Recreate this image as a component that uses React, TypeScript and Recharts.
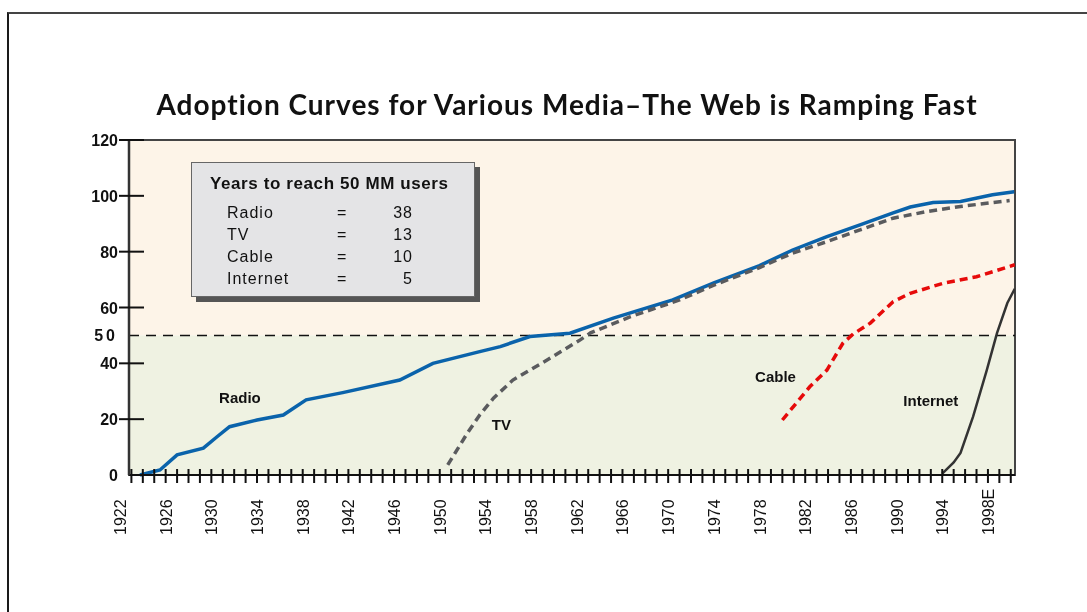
import { LineChart, Line, XAxis, YAxis, ReferenceArea, ReferenceLine, ReferenceDot } from "recharts";

// years (x) and users in millions (y)
const radioYears = [1923.75, 1925.5, 1927, 1929.3, 1930.5, 1931.6, 1934, 1936.3, 1938.3, 1941.5, 1946.5, 1949.4, 1953.5, 1955.3, 1957.9, 1961.4, 1965.2, 1970.4, 1974, 1978, 1980.9, 1983.9, 1986.8, 1989.7, 1991.2, 1993.2, 1995.6, 1998.4, 2000.3];
const radioUsers = [0, 1.8, 7.2, 9.6, 13.7, 17.3, 19.7, 21.5, 26.9, 29.5, 34, 40, 44.2, 46, 49.6, 50.8, 56.2, 62.7, 68.8, 75, 80.6, 85.4, 89.6, 93.9, 96, 97.6, 98, 100.4, 101.5];

const tvYears = [1950.7, 1952.4, 1953.5, 1954.7, 1956.4, 1959.4, 1962.3, 1963.2, 1966.7, 1971, 1974, 1978, 1980.9, 1983.9, 1986.8, 1989.7, 1992.7, 1995.6, 1999.9];
const tvUsers = [3.6, 14.9, 21.5, 27.5, 34, 41.2, 48.4, 50.9, 56.7, 62.7, 68, 74.3, 79.5, 83.6, 87.8, 92, 94.4, 96.2, 98.3];

const cableYears = [1980, 1982.4, 1983.9, 1985.3, 1986.2, 1987.7, 1989.7, 1991.2, 1994.1, 1997, 2000.35];
const cableUsers = [19.7, 31.6, 37.6, 47.2, 50.5, 54.4, 62.1, 65.1, 68.7, 71, 75.3];

const internetYears = [1994, 1995, 1995.6, 1996.7, 1997.9, 1998.8, 1999.7, 2000.35];
const internetUsers = [0.5, 4.5, 7.9, 20.9, 37.6, 50.9, 61.6, 66.7];

const yTicks = [0, 20, 40, 50, 60, 80, 100, 120];
const labelYears = [1922, 1926, 1930, 1934, 1938, 1942, 1946, 1950, 1954, 1958, 1962, 1966, 1970, 1974, 1978, 1982, 1986, 1990, 1994, 1998];
const labelText: Record<number, string> = { 1998: "1998E" };
const markYears = Array.from({ length: 79 }, (_, i) => 1922 + i);

const legendRows = [
  { name: "Radio", years: "38" },
  { name: "TV", years: "13" },
  { name: "Cable", years: "10" },
  { name: "Internet", years: "5" },
];

const toRows = (xs: number[], ys: number[]) => xs.map((year, i) => ({ year, users: ys[i] }));

const FONT = "'Liberation Sans', Arial, sans-serif";

function XTick(props: any) {
  const { x, y, payload } = props;
  const v = payload.value as number;
  const isLabel = labelYears.includes(v);
  return (
    <g>
      {v >= 1923 && <line x1={x} x2={x} y1={y - 14} y2={y} stroke="#111" strokeWidth={2} />}
      {isLabel && (
        <text
          x={0}
          y={0}
          transform={`translate(${x + 6},${y + 52}) rotate(-90)`}
          textAnchor="start"
          fontFamily={FONT}
          fontSize={16}
          fill="#111"
        >
          {labelText[v] ?? String(v)}
        </text>
      )}
    </g>
  );
}

function YTick(props: any) {
  const { x, y, payload } = props;
  const v = payload.value as number;
  return (
    <g>
      {v !== 0 && v !== 50 && <line x1={x - 2} x2={x + 23} y1={y} y2={y} stroke="#111" strokeWidth={2} />}
      <text x={x - 3} y={y + 6} textAnchor="end" fontFamily={FONT} fontWeight="bold" fontSize={16} fill="#111" letterSpacing={v === 50 ? 3 : 0}>
        {v}
      </text>
    </g>
  );
}

const lineLabel = (text: string) => ({
  value: text,
  position: "center" as const,
  fontFamily: FONT,
  fontWeight: "bold",
  fontSize: 15,
  fill: "#111",
});

export default function App() {
  return (
    <div style={{ fontFamily: FONT }}>
      <div
        style={{
          position: "fixed",
          left: 7,
          top: 12,
          width: 2000,
          height: 2000,
          borderTop: "2px solid #444",
          borderLeft: "2px solid #1a1a1a",
        }}
      />
      <div style={{ position: "fixed", left: 0, top: 0 }}>
        <LineChart width={1087} height={612} margin={{ top: 140, right: 72, bottom: 67, left: 0 }}>
          <XAxis
            dataKey="year"
            type="number"
            domain={[1922.79, 2000.37]}
            allowDataOverflow
            ticks={markYears}
            interval={0}
            tick={<XTick />}
            tickLine={false}
            axisLine={{ stroke: "#111", strokeWidth: 2 }}
            height={70}
          />
          <YAxis
            type="number"
            domain={[0, 120]}
            ticks={yTicks}
            interval={0}
            tick={<YTick />}
            tickLine={false}
            axisLine={{ stroke: "#333", strokeWidth: 2.5 }}
            width={129}
          />
          <ReferenceArea y1={50} y2={120} fill="#fdf4e8" fillOpacity={1} stroke="none" />
          <ReferenceArea y1={0} y2={50} fill="#eff2e2" fillOpacity={1} stroke="none" />
          <ReferenceArea y1={0} y2={120} fill="none" stroke="#444" strokeWidth={2} />
          <ReferenceLine y={50} stroke="#111" strokeWidth={1.5} strokeDasharray="10 7" />
          <Line data={toRows(radioYears, radioUsers)} dataKey="users" stroke="#0a63ab" strokeWidth={3.5} dot={false} isAnimationActive={false} />
          <Line data={toRows(tvYears, tvUsers)} dataKey="users" stroke="#5a5b5e" strokeWidth={3.5} strokeDasharray="8 5" dot={false} isAnimationActive={false} />
          <Line data={toRows(cableYears, cableUsers)} dataKey="users" stroke="#e60a0a" strokeWidth={3.5} strokeDasharray="8 5" dot={false} isAnimationActive={false} />
          <Line data={toRows(internetYears, internetUsers)} dataKey="users" stroke="#333" strokeWidth={2.5} dot={false} isAnimationActive={false} />
          <ReferenceDot x={1932.5} y={27.6} r={0} stroke="none" label={lineLabel("Radio")} />
          <ReferenceDot x={1955.4} y={17.9} r={0} stroke="none" label={lineLabel("TV")} />
          <ReferenceDot x={1979.4} y={35.1} r={0} stroke="none" label={lineLabel("Cable")} />
          <ReferenceDot x={1993.0} y={26.5} r={0} stroke="none" label={lineLabel("Internet")} />
        </LineChart>
      </div>
      <div
        style={{
          position: "fixed",
          left: 0,
          top: 87,
          width: 1134,
          textAlign: "center",
          fontFamily: "Lato, sans-serif",
          fontWeight: 700,
          fontSize: 28,
          letterSpacing: 1,
          color: "#111",
          whiteSpace: "nowrap",
        }}
      >
        Adoption Curves for Various Media–The Web is Ramping Fast
      </div>
      <div
        style={{
          position: "fixed",
          left: 191,
          top: 162,
          width: 282,
          height: 133,
          background: "#e4e4e6",
          border: "1.5px solid #666",
          boxShadow: "5px 5px 0 #555",
          color: "#111",
        }}
      >
        <div style={{ position: "absolute", left: 18, top: 11, fontWeight: "bold", fontSize: 17, letterSpacing: 0.6, whiteSpace: "nowrap" }}>
          Years to reach 50 MM users
        </div>
        {legendRows.map((r, i) => (
          <div key={r.name} style={{ position: "absolute", top: 41 + i * 22, left: 0, width: "100%", fontSize: 16, height: 18 }}>
            <span style={{ position: "absolute", left: 35, letterSpacing: 1 }}>{r.name}</span>
            <span style={{ position: "absolute", left: 145 }}>=</span>
            <span style={{ position: "absolute", right: 61, letterSpacing: 1 }}>{r.years}</span>
          </div>
        ))}
      </div>
    </div>
  );
}
